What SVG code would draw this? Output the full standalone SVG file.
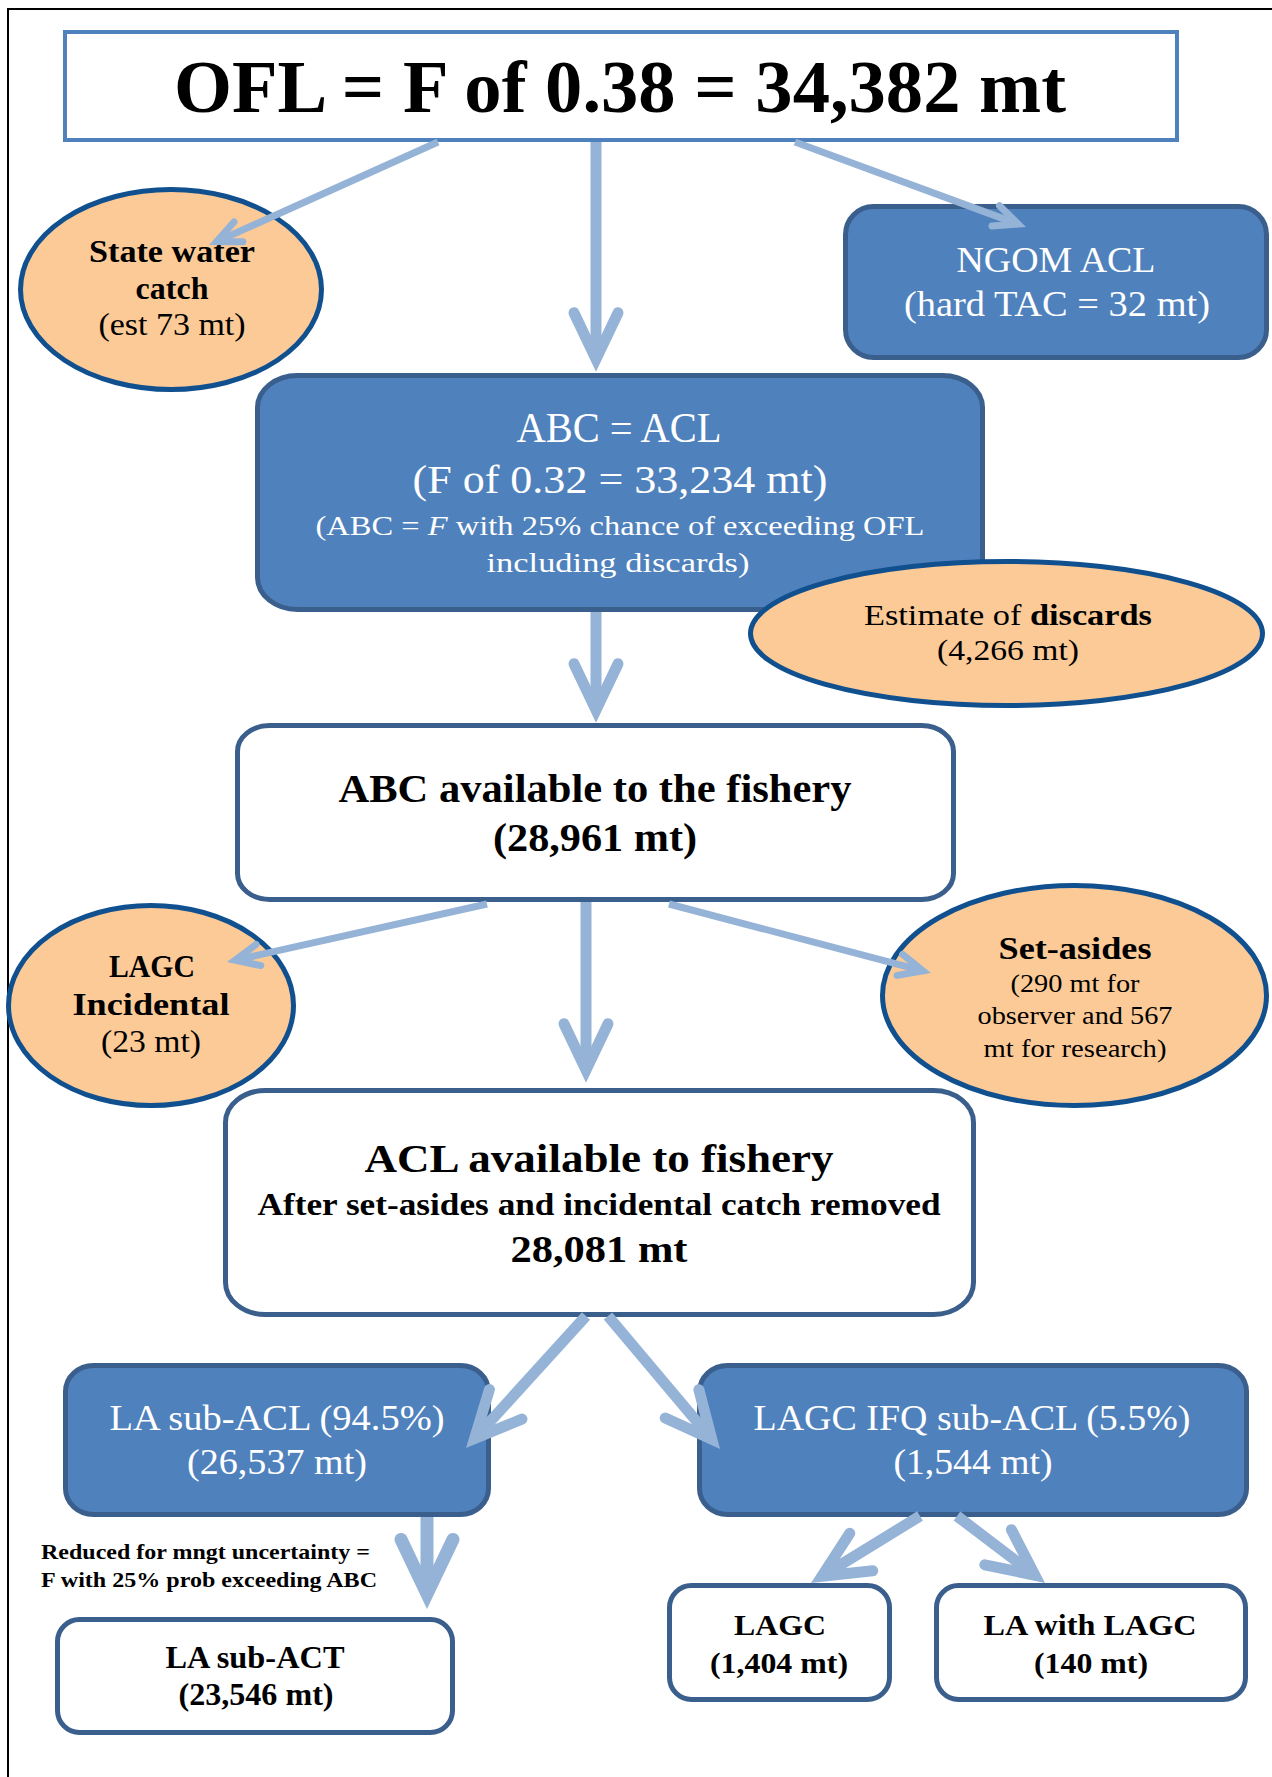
<svg xmlns="http://www.w3.org/2000/svg" width="1272" height="1777" viewBox="0 0 1272 1777">
<defs>
<style>
.blue{fill:#4F81BD;stroke:#3A5F8D;stroke-width:5}
.white{fill:#FFFFFF;stroke:#3A5F8D;stroke-width:5}
.oval{fill:#FBCA97;stroke:#11508F;stroke-width:5}
.conn line{stroke:#95B3D7;fill:none}
.thick{stroke-width:11;marker-end:url(#ahK)}
.thin{stroke-width:7;marker-end:url(#ahT)}
text{font-family:"Liberation Serif","Times New Roman",serif;text-anchor:middle;fill:#000}
.w{fill:#FFFFFF}
.b{font-weight:bold}
</style>
<marker id="ahK" markerUnits="strokeWidth" viewBox="-6 -4 8 8" refX="0" refY="0" markerWidth="8" markerHeight="8" orient="auto" overflow="visible">
<path d="M-4.2,-2 L0,0 L-4.2,2" fill="none" stroke="#95B3D7" stroke-width="1" stroke-linecap="round" stroke-linejoin="miter" stroke-miterlimit="10"/>
</marker>
<marker id="ahT" markerUnits="strokeWidth" viewBox="-6 -4 8 8" refX="0" refY="0" markerWidth="8" markerHeight="8" orient="auto" overflow="visible">
<path d="M-3.4,-1.55 L0,0 L-3.4,1.55" fill="none" stroke="#95B3D7" stroke-width="1" stroke-linecap="round" stroke-linejoin="miter" stroke-miterlimit="10"/>
</marker>
</defs>
<rect x="0" y="0" width="1272" height="1777" fill="#FFFFFF"/>
<g id="frame" stroke="#000" stroke-width="2" fill="none">
<path d="M8,1777 L8,9 L1272,9"/>
</g>

<g id="ofl">
<rect x="65" y="32" width="1112" height="108" fill="#FFFFFF" stroke="#4F81BD" stroke-width="4"/>
<text x="620" y="112" class="b" font-size="75" textLength="892" lengthAdjust="spacingAndGlyphs">OFL = F of 0.38 = 34,382 mt</text>
</g>

<g id="state">
<ellipse cx="171" cy="289.5" rx="150.5" ry="100" class="oval"/>
<text x="172" y="262" class="b" font-size="32" textLength="166" lengthAdjust="spacingAndGlyphs">State water</text>
<text x="172" y="299" class="b" font-size="32">catch</text>
<text x="172" y="335" font-size="31" textLength="147" lengthAdjust="spacingAndGlyphs">(est 73 mt)</text>
</g>

<g id="ngom">
<rect x="845.5" y="206.5" width="421" height="151" rx="28" ry="28" class="blue"/>
<text x="1056" y="272" class="w" font-size="36" textLength="199" lengthAdjust="spacingAndGlyphs">NGOM ACL</text>
<text x="1057" y="316" class="w" font-size="36" textLength="306" lengthAdjust="spacingAndGlyphs">(hard TAC = 32 mt)</text>
</g>

<g id="abc-acl">
<rect x="257.5" y="375.5" width="725" height="234" rx="40" ry="32" class="blue"/>
<text x="619" y="442" class="w" font-size="42" textLength="205" lengthAdjust="spacingAndGlyphs">ABC = ACL</text>
<text x="620" y="493" class="w" font-size="41" textLength="415" lengthAdjust="spacingAndGlyphs">(F of 0.32 = 33,234 mt)</text>
<text x="620" y="535" class="w" font-size="27" textLength="609" lengthAdjust="spacingAndGlyphs">(ABC = <tspan font-style="italic">F</tspan> with 25% chance of exceeding OFL</text>
<text x="618" y="572" class="w" font-size="27" textLength="263" lengthAdjust="spacingAndGlyphs">including discards)</text>
</g>

<g id="discards">
<ellipse cx="1006.5" cy="633.5" rx="256" ry="72" class="oval"/>
<text x="1008" y="625" font-size="30" textLength="288" lengthAdjust="spacingAndGlyphs">Estimate of <tspan class="b">discards</tspan></text>
<text x="1008" y="660" font-size="30" textLength="142" lengthAdjust="spacingAndGlyphs">(4,266 mt)</text>
</g>

<g id="abc-avail">
<rect x="237.5" y="725.5" width="716" height="174" rx="32" ry="26" class="white"/>
<text x="595" y="802" class="b" font-size="40" textLength="513" lengthAdjust="spacingAndGlyphs">ABC available to the fishery</text>
<text x="595" y="851" class="b" font-size="40" textLength="204" lengthAdjust="spacingAndGlyphs">(28,961 mt)</text>
</g>

<g id="lagc-inc">
<ellipse cx="151" cy="1005.5" rx="142.5" ry="100" class="oval"/>
<text x="152" y="977" class="b" font-size="32" textLength="86" lengthAdjust="spacingAndGlyphs">LAGC</text>
<text x="151" y="1015" class="b" font-size="32" textLength="157" lengthAdjust="spacingAndGlyphs">Incidental</text>
<text x="151" y="1052" font-size="31" textLength="100" lengthAdjust="spacingAndGlyphs">(23 mt)</text>
</g>

<g id="setasides">
<ellipse cx="1074.5" cy="995.5" rx="192" ry="110" class="oval"/>
<text x="1075" y="959" class="b" font-size="31" textLength="153" lengthAdjust="spacingAndGlyphs">Set-asides</text>
<text x="1075" y="992" font-size="26" textLength="129" lengthAdjust="spacingAndGlyphs">(290 mt for</text>
<text x="1075" y="1024" font-size="26" textLength="195" lengthAdjust="spacingAndGlyphs">observer and 567</text>
<text x="1075" y="1057" font-size="26" textLength="183" lengthAdjust="spacingAndGlyphs">mt for research)</text>
</g>

<g id="acl-avail">
<rect x="225.5" y="1090.5" width="748" height="224" rx="40" ry="32" class="white"/>
<text x="599" y="1172" class="b" font-size="40" textLength="469" lengthAdjust="spacingAndGlyphs">ACL available to fishery</text>
<text x="599" y="1215" class="b" font-size="31" textLength="683" lengthAdjust="spacingAndGlyphs">After set-asides and incidental catch removed</text>
<text x="599" y="1262" class="b" font-size="38" textLength="177" lengthAdjust="spacingAndGlyphs">28,081 mt</text>
</g>

<g id="la-sub-acl">
<rect x="65.5" y="1365.5" width="423" height="149" rx="28" ry="26" class="blue"/>
<text x="277" y="1430" class="w" font-size="36" textLength="335" lengthAdjust="spacingAndGlyphs">LA sub-ACL (94.5%)</text>
<text x="277" y="1474" class="w" font-size="36" textLength="180" lengthAdjust="spacingAndGlyphs">(26,537 mt)</text>
</g>

<g id="lagc-ifq">
<rect x="699.5" y="1365.5" width="547" height="149" rx="28" ry="26" class="blue"/>
<text x="972" y="1430" class="w" font-size="36" textLength="437" lengthAdjust="spacingAndGlyphs">LAGC IFQ sub-ACL (5.5%)</text>
<text x="973" y="1474" class="w" font-size="36" textLength="159" lengthAdjust="spacingAndGlyphs">(1,544 mt)</text>
</g>

<g id="note">
<text x="41" y="1559" class="b" font-size="22" style="text-anchor:start" textLength="329" lengthAdjust="spacingAndGlyphs">Reduced for mngt uncertainty =</text>
<text x="41" y="1587" class="b" font-size="22" style="text-anchor:start" textLength="336" lengthAdjust="spacingAndGlyphs">F with 25% prob exceeding ABC</text>
</g>

<g id="la-sub-act">
<rect x="57.5" y="1619.5" width="395" height="113" rx="22" ry="22" class="white"/>
<text x="255" y="1668" class="b" font-size="31" textLength="179" lengthAdjust="spacingAndGlyphs">LA sub-ACT</text>
<text x="256" y="1705" class="b" font-size="31" textLength="155" lengthAdjust="spacingAndGlyphs">(23,546 mt)</text>
</g>

<g id="lagc">
<rect x="669.5" y="1585.5" width="220" height="114" rx="22" ry="22" class="white"/>
<text x="780" y="1635" class="b" font-size="30" textLength="92" lengthAdjust="spacingAndGlyphs">LAGC</text>
<text x="779" y="1673" class="b" font-size="30" textLength="138" lengthAdjust="spacingAndGlyphs">(1,404 mt)</text>
</g>

<g id="la-with-lagc">
<rect x="936.5" y="1585.5" width="309" height="114" rx="22" ry="22" class="white"/>
<text x="1090" y="1635" class="b" font-size="30" textLength="213" lengthAdjust="spacingAndGlyphs">LA with LAGC</text>
<text x="1091" y="1673" class="b" font-size="30" textLength="114" lengthAdjust="spacingAndGlyphs">(140 mt)</text>
</g>

<g id="connectors" class="conn">
<line x1="596" y1="142" x2="596" y2="359" class="thick"/>
<line x1="438" y1="142" x2="216.7" y2="241.6" class="thin"/>
<line x1="795" y1="142" x2="1018.1" y2="224.1" class="thin"/>
<line x1="596" y1="612" x2="596" y2="710" class="thick"/>
<line x1="586" y1="902" x2="586" y2="1070" class="thick"/>
<line x1="487" y1="904" x2="235.2" y2="960.2" class="thin"/>
<line x1="669" y1="904" x2="922.9" y2="970.9" class="thin"/>
<line x1="586" y1="1316" x2="474.6" y2="1438.5" class="thick"/>
<line x1="608" y1="1316" x2="711.8" y2="1439.2" class="thick"/>
<line x1="427" y1="1517" x2="427" y2="1594" class="thick" style="stroke-width:13"/>
<line x1="920" y1="1516" x2="821.9" y2="1576.2" class="thick"/>
<line x1="957" y1="1516" x2="1034.9" y2="1575.2" class="thick"/>
</g>
</svg>
